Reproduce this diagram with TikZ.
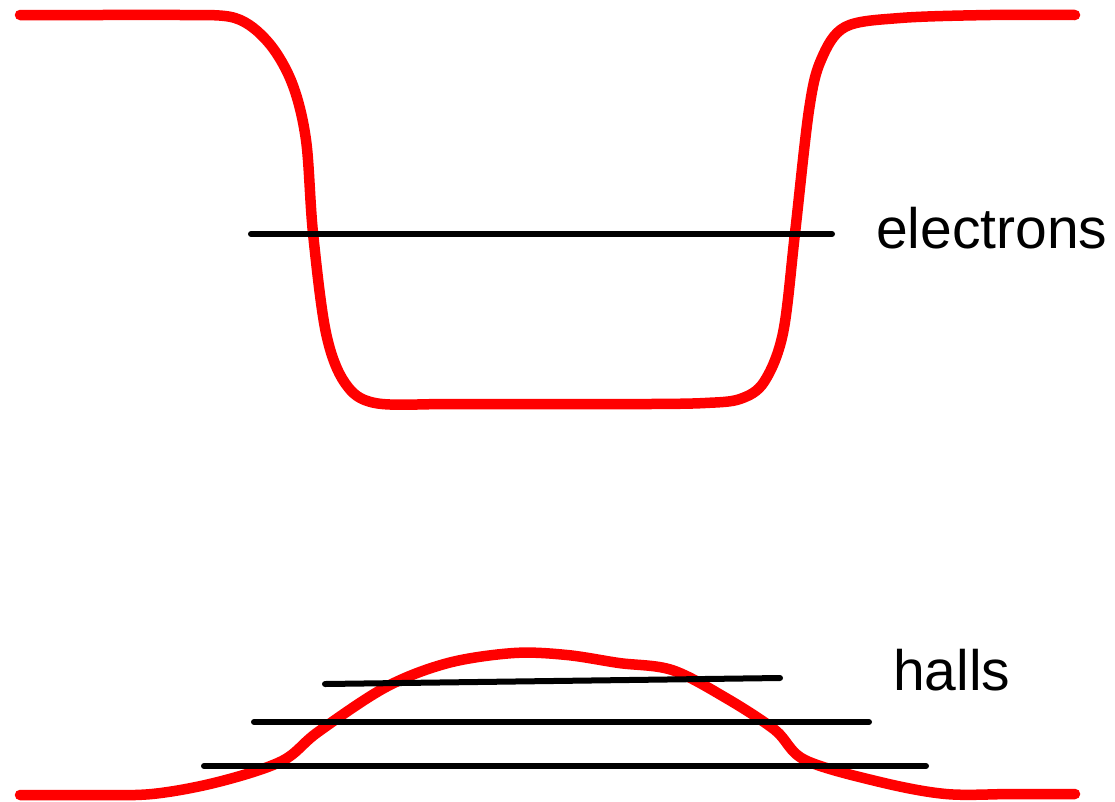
\documentclass[tikz,border=0pt]{standalone}
\usepackage{fontspec}
\setmainfont{Liberation Sans}
\begin{document}
\begin{tikzpicture}[x=1pt,y=-1pt,
  band/.style={draw=red,line width=10.5pt,line cap=round,line join=round},
  level/.style={draw=black,line width=6pt,line cap=round},
  lab/.style={anchor=base west,inner sep=0pt,font=\fontsize{57}{60}\selectfont}]
\useasboundingbox (0,0) rectangle (1115,801);
% conduction band
\draw[band] plot[smooth,tension=0.55] coordinates{(20,15) (100,15) (180,15) (235,18) (268,42) (292,83) (306,140) (313,233) (326,333) (345,383) (375,403) (450,404) (550,404) (650,404) (705,403) (740,399) (764,382) (783,333) (795,233) (809,110) (821,60) (845,27) (900,18) (990,15) (1075,15)};
% valence band
\draw[band] plot[smooth,tension=0.55] coordinates{(20,795) (86,795) (152,794) (218,782) (282,761) (318,732) (386,687) (448,663) (514,653) (567,655) (619,663) (672,670) (726,698) (775,730) (805,760) (880,782) (946,794) (1012,794) (1075,794)};
% levels
\coordinate (e1) at (251,234); \coordinate (e2) at (832,234);
\draw[level] (e1) -- (e2);
\coordinate (h1a) at (325,684); \coordinate (h1b) at (780,678);
\coordinate (h2a) at (254,722); \coordinate (h2b) at (869,722);
\coordinate (h3a) at (204,766); \coordinate (h3b) at (926,766);
\draw[level] (h1a) -- (h1b);
\draw[level] (h2a) -- (h2b);
\draw[level] (h3a) -- (h3b);
\node[lab] (electrons) at (876,248) {electrons};
\node[lab] (halls) at (893,690) {halls};
\end{tikzpicture}
\end{document}
